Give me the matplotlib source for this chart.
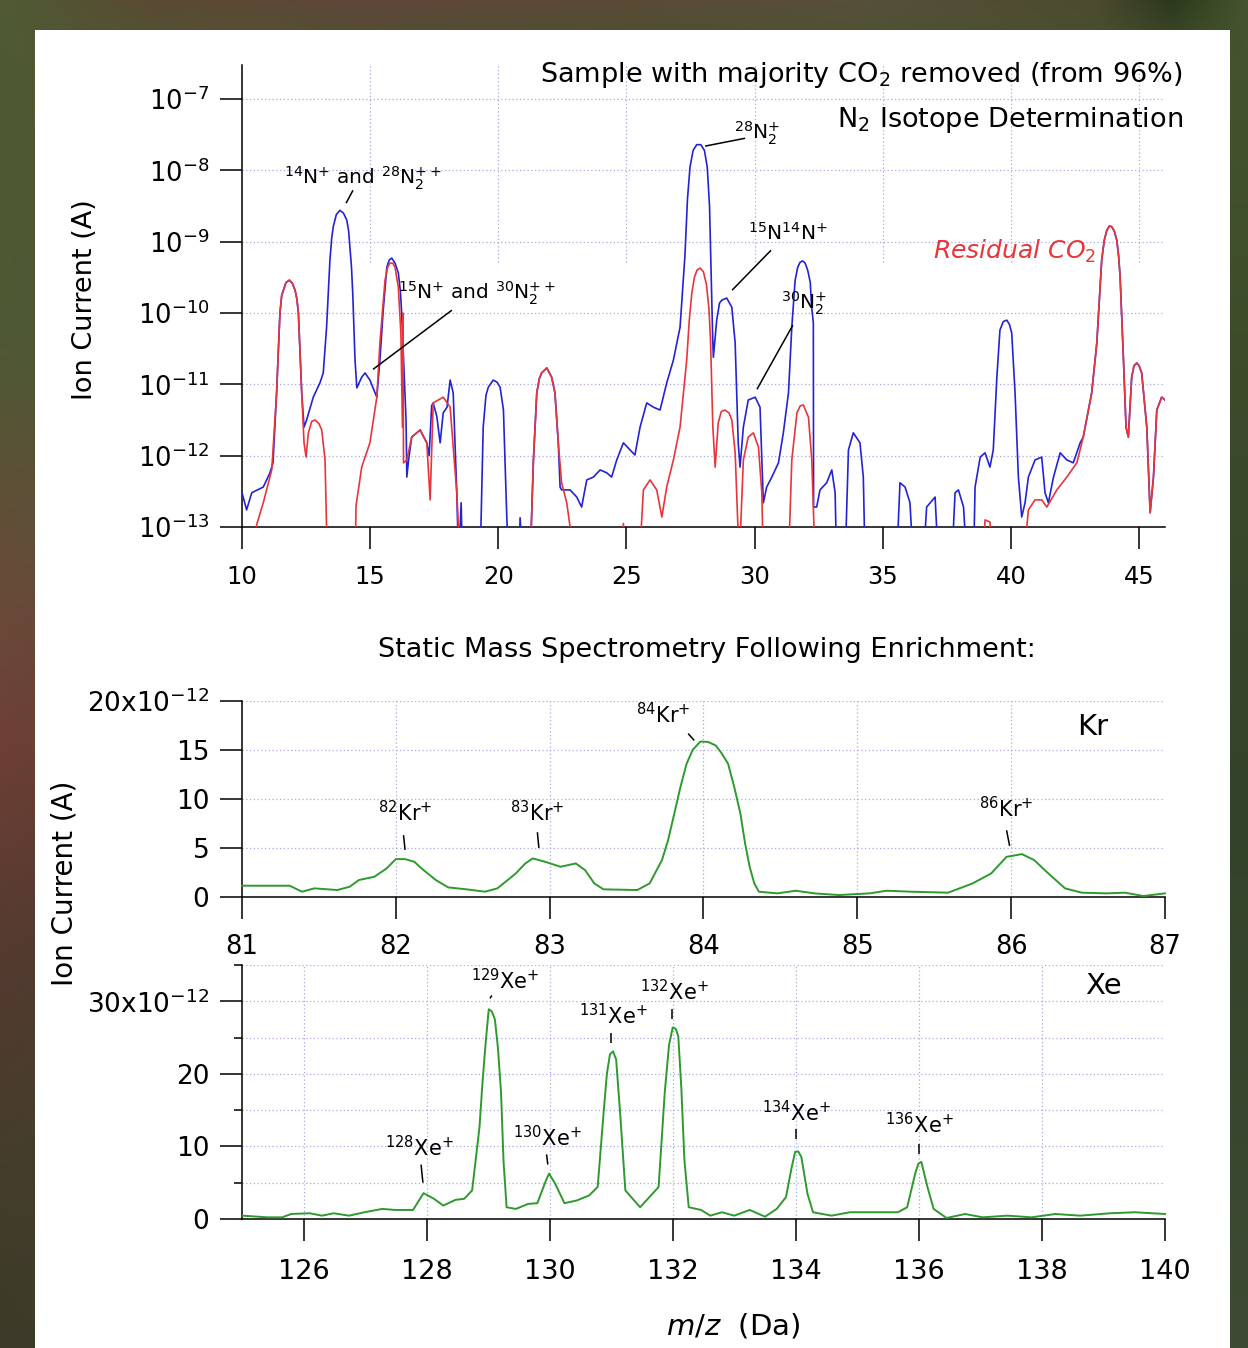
import matplotlib
matplotlib.use('Agg')
import matplotlib.pyplot as plt
import numpy as np
from matplotlib.patches import Rectangle
from matplotlib.colors import to_rgb
from matplotlib.ticker import FixedLocator, NullLocator, FixedFormatter

# ---------------- data ----------------
# Top panel: (m/z, log10 ion current [A]); -13.5 means below the axis floor
n2_sample = [(10.00,-12.52),(10.18,-12.76),(10.38,-12.52),(10.83,-12.44),(11.09,-12.24),(11.21,-12.10),
    (11.35,-11.12),(11.48,-10.00),(11.55,-9.75),(11.72,-9.57),(11.85,-9.54),(11.96,-9.58),(12.07,-9.68),
    (12.14,-9.80),(12.20,-10.00),(12.33,-11.12),
    (12.42,-11.60),(12.52,-11.50),(12.78,-11.18),(13.04,-10.98),(13.17,-10.84),(13.30,-10.20),(13.43,-9.26),
    (13.50,-8.95),(13.56,-8.79),(13.68,-8.62),(13.82,-8.56),(13.96,-8.60),(14.09,-8.70),(14.16,-8.85),
    (14.21,-9.08),(14.27,-9.35),(14.32,-9.72),(14.41,-10.66),(14.48,-11.05),
    (14.67,-10.90),(14.80,-10.84),(14.99,-10.94),(15.26,-11.18),(15.38,-10.66),(15.51,-9.96),(15.65,-9.36),
    (15.74,-9.26),(15.84,-9.23),(15.97,-9.30),(16.10,-9.44),(16.18,-9.70),(16.23,-10.00),(16.40,-11.50),
    (16.43,-12.30),(16.50,-12.06),
    (16.62,-11.74),(16.95,-11.64),(17.21,-11.82),(17.30,-12.00),(17.40,-11.30),(17.46,-11.26),(17.60,-11.45),
    (17.73,-11.82),(17.85,-11.40),(18.00,-11.32),(18.12,-10.94),(18.24,-11.12),(18.38,-12.52),(18.45,-13.50),
    (18.55,-12.66),(18.60,-13.50),(19.29,-13.50),(19.41,-11.60),(19.52,-11.15),(19.61,-11.04),(19.80,-10.94),
    (19.95,-10.97),(20.07,-11.04),(20.20,-11.36),(20.30,-12.52),(20.39,-13.50),(20.80,-13.50),(20.85,-12.87),
    (20.95,-13.50),(21.24,-13.50),
    (21.37,-12.06),(21.50,-11.12),(21.60,-10.92),(21.69,-10.84),(21.89,-10.77),(22.08,-10.90),(22.21,-11.12),
    (22.34,-11.82),(22.41,-12.44),(22.47,-12.48),(22.80,-12.48),(23.06,-12.58),(23.25,-12.72),(23.45,-12.34),
    (23.71,-12.30),(23.97,-12.20),(24.23,-12.24),(24.42,-12.30),(24.62,-12.06),(24.88,-11.82),(25.14,-11.92),
    (25.33,-11.99),(25.53,-11.60),(25.79,-11.26),(26.05,-11.32),(26.31,-11.36),(26.57,-10.98),(26.83,-10.66),
    (27.09,-10.20),(27.28,-9.20),(27.38,-8.40),(27.48,-7.95),(27.60,-7.72),(27.74,-7.64),(27.90,-7.64),
    (28.04,-7.72),(28.15,-7.95),(28.24,-8.50),(28.30,-9.40),(28.36,-10.30),
    (28.39,-10.62),(28.52,-10.10),(28.63,-9.86),(28.72,-9.82),(28.91,-9.79),(29.11,-9.92),(29.24,-10.42),
    (29.36,-11.82),(29.43,-12.16),(29.56,-11.60),(29.75,-11.22),(30.02,-11.18),(30.21,-11.32),(30.34,-12.66),
    (30.47,-12.44),(30.67,-12.30),(30.93,-12.10),(31.12,-11.68),(31.32,-11.12),(31.45,-10.20),(31.58,-9.54),
    (31.68,-9.36),(31.77,-9.29),(31.87,-9.27),(31.97,-9.30),(32.07,-9.40),(32.17,-9.57),(32.22,-9.90),
    (32.29,-10.14),(32.30,-12.72),(32.42,-12.72),
    (32.55,-12.48),(32.81,-12.38),(33.01,-12.20),(33.14,-12.52),(33.20,-13.50),(33.53,-13.50),(33.66,-11.92),
    (33.85,-11.68),(34.11,-11.82),(34.24,-12.30),(34.31,-13.50),(35.54,-13.50),(35.67,-12.38),(35.87,-12.44),
    (36.06,-12.66),(36.19,-13.50),(36.58,-13.50),(36.71,-12.72),(37.04,-12.58),(37.17,-13.50),(37.69,-13.50),
    (37.82,-12.52),(37.95,-12.48),(38.15,-12.72),(38.28,-13.50),(38.54,-13.50),(38.60,-12.44),(38.80,-12.02),
    (38.99,-11.96),(39.18,-12.16),(39.31,-11.92),(39.45,-10.90),(39.57,-10.24),(39.70,-10.12),(39.84,-10.10),
    (39.94,-10.16),(40.03,-10.28),(40.16,-11.12),(40.29,-12.30),(40.42,-12.86),(40.55,-12.66),(40.68,-12.30),
    (40.94,-12.06),(41.20,-12.02),
    (41.33,-12.52),(41.46,-12.66),(41.66,-12.30),(41.92,-11.96),(42.18,-12.06),(42.43,-12.10),(42.70,-11.82),
    (42.82,-11.74),(43.15,-11.12),(43.35,-10.42),(43.54,-9.26),(43.64,-8.98),(43.74,-8.84),(43.84,-8.78),
    (43.93,-8.79),(44.03,-8.85),(44.13,-8.98),(44.20,-9.20),
    (44.26,-9.50),(44.39,-10.66),(44.49,-11.60),(44.58,-11.74),(44.71,-10.90),(44.80,-10.74),(44.91,-10.70),
    (45.00,-10.74),(45.10,-10.84),
    (45.30,-11.60),(45.43,-12.80),(45.56,-12.30),(45.69,-11.36),(45.88,-11.18),(46.01,-11.22)]

n2_residual_co2 = [(10.40,-13.5),(10.57,-12.97),(10.83,-12.66),(11.16,-12.20),(11.35,-11.12),(11.48,-10.00),
    (11.55,-9.75),(11.72,-9.57),(11.85,-9.54),(11.96,-9.58),(12.07,-9.68),(12.14,-9.80),(12.20,-10.00),
    (12.33,-11.12),(12.42,-11.82),(12.50,-12.02),
    (12.59,-11.68),(12.72,-11.52),(12.85,-11.50),(13.00,-11.55),(13.11,-11.64),(13.24,-12.06),(13.33,-13.5),
    (14.41,-13.5),(14.45,-12.70),
    (14.67,-12.16),(14.99,-11.82),(15.26,-11.18),(15.38,-10.42),(15.58,-9.54),(15.68,-9.36),(15.77,-9.30),
    (15.88,-9.30),(15.97,-9.36),(16.10,-9.64),(16.20,-10.3),(16.26,-11.6),(16.28,-10.0),(16.30,-12.1),
    (16.43,-12.06),(16.62,-11.74),
    (16.95,-11.64),(17.21,-11.82),(17.34,-12.62),(17.46,-11.26),(17.85,-11.18),(18.12,-11.32),(18.38,-12.52),
    (18.51,-13.5),(21.24,-13.5),(21.37,-12.06),(21.50,-11.12),(21.60,-10.92),(21.69,-10.84),(21.89,-10.77),
    (22.08,-10.90),
    (22.21,-11.12),(22.34,-11.82),(22.47,-12.38),(22.67,-12.66),(22.80,-13.0),(22.90,-13.5),(24.80,-13.5),
    (24.88,-12.95),(24.96,-13.5),(25.50,-13.5),(25.66,-12.48),(25.92,-12.34),(26.18,-12.48),(26.38,-12.86),
    (26.57,-12.44),(26.83,-12.06),(27.09,-11.60),(27.35,-10.66),(27.45,-10.10),(27.55,-9.72),(27.65,-9.50),
    (27.75,-9.40),(27.87,-9.37),(28.00,-9.42),(28.12,-9.60),(28.22,-9.95),(28.28,-10.40),
    (28.37,-11.60),(28.46,-12.16),(28.58,-11.54),(28.70,-11.38),(28.84,-11.36),(29.00,-11.40),(29.11,-11.50),
    (29.24,-11.96),(29.40,-13.5),(29.56,-12.06),(29.75,-11.74),(29.95,-11.68),(30.15,-11.88),(30.28,-12.52),
    (30.34,-13.5),(31.32,-13.5),(31.45,-12.06),(31.65,-11.40),(31.78,-11.30),(31.90,-11.29),(32.10,-11.46),
    (32.23,-12.06),(32.36,-13.5),
    (38.90,-13.5),(38.99,-12.90),(39.18,-12.93),(39.30,-13.5),(40.49,-13.5),(40.68,-12.76),(40.94,-12.62),
    (41.20,-12.62),(41.40,-12.72),(41.79,-12.48),(42.18,-12.30),(42.57,-12.10),(42.82,-11.74),(43.15,-11.12),
    (43.35,-10.42),(43.54,-9.26),(43.64,-8.98),(43.74,-8.84),(43.84,-8.78),(43.93,-8.79),(44.03,-8.85),
    (44.13,-8.98),(44.20,-9.20),(44.26,-9.50),(44.39,-10.66),
    (44.49,-11.60),(44.58,-11.74),(44.71,-10.90),(44.80,-10.74),(44.91,-10.70),(45.00,-10.74),(45.10,-10.84),
    (45.30,-11.60),(45.43,-12.80),(45.56,-12.30),(45.69,-11.36),(45.88,-11.18),(46.01,-11.22)]

# Kr panel: (m/z, ion current in 1e-12 A)
kr_trace = [(81.00,1.15),(81.31,1.15),(81.39,0.54),(81.47,0.88),(81.62,0.71),(81.70,1.05),(81.76,1.73),
    (81.86,2.06),(81.94,2.91),(82.00,3.86),(82.06,3.86),(82.12,3.59),(82.18,2.74),(82.26,1.73),(82.34,0.98),
    (82.46,0.78),(82.58,0.54),(82.66,0.88),(82.78,2.40),(82.84,3.40),(82.89,3.93),(82.97,3.59),(83.07,3.08),
    (83.17,3.42),(83.23,2.74),(83.29,1.39),(83.35,0.78),(83.57,0.71),(83.65,1.39),(83.73,3.76),(83.77,5.80),
    (83.81,8.49),(83.85,11.2),(83.89,13.57),(83.93,15.0),(83.98,15.84),(84.03,15.80),(84.08,15.43),
    (84.12,14.6),(84.16,13.57),(84.20,11.2),(84.24,8.49),(84.27,5.50),(84.30,3.08),(84.33,1.40),
    (84.36,0.54),(84.48,0.37),(84.60,0.64),
    (84.72,0.37),(84.88,0.20),(85.08,0.37),(85.19,0.64),(85.35,0.54),(85.59,0.44),(85.75,1.39),(85.87,2.40),
    (85.97,4.09),(86.07,4.37),(86.15,3.76),(86.23,2.57),(86.35,0.88),(86.46,0.44),(86.62,0.37),(86.74,0.44),
    (86.86,0.10),(87.00,0.37)]

# Xe panel: (m/z, ion current in 1e-12 A)
xe_trace = [(125.01,0.46),(125.41,0.23),(125.65,0.23),(125.80,0.69),(126.10,0.79),(126.30,0.46),(126.49,0.79),
    (126.74,0.46),(126.99,0.93),(127.28,1.39),(127.48,1.25),(127.78,1.25),(127.95,3.56),(128.12,2.78),
    (128.27,1.85),(128.47,2.64),(128.61,2.78),(128.74,3.94),(128.86,12.7),(128.91,19.0),(128.96,24.3),
    (129.01,28.9),(129.06,28.6),(129.11,27.5),(129.16,23.5),(129.21,17.4),(129.25,8.0),(129.30,1.62),
    (129.45,1.39),(129.65,2.08),(129.80,2.18),(129.94,5.32),
    (129.99,6.25),(130.09,4.86),(130.24,2.18),(130.44,2.55),(130.64,3.24),(130.78,4.40),(130.88,15.0),
    (130.93,20.0),(130.98,22.7),(131.03,23.1),(131.08,22.0),(131.15,14.0),(131.23,3.94),(131.47,1.62),
    (131.62,3.01),(131.77,4.40),(131.87,17.4),(131.94,24.0),
    (132.00,26.4),(132.05,26.2),(132.09,25.2),(132.14,18.0),(132.19,8.1),(132.26,1.62),(132.46,1.25),
    (132.61,0.46),(132.80,0.93),
    (133.00,0.46),(133.25,1.25),(133.50,0.32),(133.69,1.39),(133.84,3.01),(133.93,7.0),(133.99,9.26),
    (134.04,9.30),(134.09,8.56),
    (134.19,3.47),(134.28,0.93),(134.58,0.46),(134.88,0.93),(135.27,0.93),(135.66,0.93),(135.81,1.62),
    (135.94,6.25),(135.99,7.60),(136.04,7.87),(136.14,4.40),(136.24,1.39),(136.45,0.14),(136.75,0.69),
    (137.04,0.23),
    (137.44,0.46),(137.83,0.23),(138.22,0.69),(138.62,0.46),(139.11,0.79),(139.51,0.93),(140.00,0.69)]

n2_xticks = [10, 15, 20, 25, 30, 35, 40, 45]
n2_yticks_exp = [-13, -12, -11, -10, -9, -8, -7]
kr_xticks = [81, 82, 83, 84, 85, 86, 87]
kr_yticks = [0, 5, 10, 15, 20]
kr_yticklabels = ['0', '5', '10', '15', r'20x10$^{\mathregular{-12}}$']
xe_xticks = [126, 128, 130, 132, 134, 136, 138, 140]
xe_yticks = [0, 10, 20, 30]
xe_yticklabels = ['0', '10', '20', r'30x10$^{\mathregular{-12}}$']

# ---------------- figure ----------------
W, H = 1248, 1348
fig = plt.figure(figsize=(W/100, H/100), dpi=100)
fig.patch.set_facecolor('#4b4331')

# decorative photographic-looking backdrop (colour gradient only)
bg = fig.add_axes([0, 0, 1, 1], zorder=-20)
bg.axis('off')
gx = np.linspace(0, 1, 312)
gy = np.linspace(0, 1, 337)
top_stops = [(0.0, '#4f5a33'), (0.12, '#5a4a34'), (0.3, '#5e4638'), (0.5, '#5a4a36'),
             (0.7, '#56503a'), (0.88, '#4c4a30'), (0.94, '#2c381d'), (1.0, '#46552e')]
left_stops = [(0.0, '#4f5a33'), (0.25, '#4e5834'), (0.45, '#6a4a3a'), (0.55, '#6e3f35'),
              (0.7, '#553a30'), (0.85, '#463d2c'), (1.0, '#3c3a28')]
right_stops = [(0.0, '#46552e'), (0.3, '#3c4a2a'), (0.6, '#33422a'), (1.0, '#3e4a33')]
def ramp(stops, t):
    xs = [s[0] for s in stops]
    cs = np.array([to_rgb(s[1]) for s in stops])
    return np.stack([np.interp(t, xs, cs[:, k]) for k in range(3)], axis=-1)
topc = ramp(top_stops, gx)
leftc = ramp(left_stops, gy)
rightc = ramp(right_stops, gy)
wx = np.clip(gx / 0.5, 0, 1)[None, :, None]
side = leftc[:, None, :] * (1 - wx) + rightc[:, None, :] * wx
wy = np.clip(gy / 0.05, 0, 1)[:, None, None]
img = topc[None, :, :] * (1 - wy) + side * wy
bg.imshow(img, extent=[0, 1, 1, 0], aspect='auto', interpolation='bilinear')
bg.set_xlim(0, 1); bg.set_ylim(1, 0)

fig.add_artist(Rectangle((35/W, 0), (1230-35)/W, (H-30)/H, transform=fig.transFigure,
                         facecolor='white', edgecolor='none', zorder=-10))

def fx(px): return px / W
def fy(py): return 1 - py / H

GRID = dict(color='#a9a9e8', linestyle=(0, (1, 2)), linewidth=0.9)
BLUE, RED, GREEN = '#2323d6', '#e8353b', '#2e9a2e'

def style(ax):
    for s in ('top', 'right'):
        ax.spines[s].set_visible(False)
    for s in ('left', 'bottom'):
        ax.spines[s].set_linewidth(1.1)
    ax.set_facecolor('none')
    ax.tick_params(which='major', direction='out', length=15.5, width=1.1, color='black')
    ax.tick_params(which='minor', direction='out', length=6, width=1.1, color='black')

# ---- top: N2 isotopes (log) ----
ax1 = fig.add_axes([fx(242), fy(527), fx(1165)-fx(242), fy(65)-fy(527)])
style(ax1)
ax1.set_yscale('log')
ax1.set_xlim(10, 46.01)
ax1.set_ylim(1e-13, 10**-6.523)
ax1.yaxis.set_major_locator(FixedLocator([10.0**e for e in n2_yticks_exp]))
ax1.yaxis.set_minor_locator(NullLocator())
ax1.set_xticks(n2_xticks)
ax1.tick_params(axis='x', labelsize=17.5, pad=12)
ax1.tick_params(axis='y', labelsize=18.5, pad=8)
for e in n2_yticks_exp[1:]:
    ax1.axhline(10.0**e, zorder=0, **GRID)
ax1.vlines(n2_xticks[1:], 10**-9.29, 10**-6.523, zorder=0, **GRID)

sx, sy = zip(*n2_sample)
cx, cy = zip(*n2_residual_co2)
ax1.plot(sx, 10.0**np.array(sy), color=BLUE, lw=1.2, zorder=3)
ax1.plot(cx, 10.0**np.array(cy), color=RED, lw=1.2, zorder=4)

def lin(ax, x0, y0, x1, y1, log=False):
    if log:
        y0, y1 = 10**y0, 10**y1
    ax.plot([x0, x1], [y0, y1], color='black', lw=1.1, zorder=5, solid_capstyle='butt')

ann = 14.5
ax1.text(14.70, 10**-8.11, r'$^{14}\mathrm{N}^{+}$ and $^{28}\mathrm{N}_{2}^{++}$', fontsize=ann, ha='center', va='center')
lin(ax1, 14.06, -8.46, 14.33, -8.28, log=True)
ax1.text(30.09, 10**-7.48, r'$^{28}\mathrm{N}_{2}^{+}$', fontsize=ann, ha='center', va='center')
lin(ax1, 28.07, -7.66, 29.63, -7.55, log=True)
ax1.text(19.17, 10**-9.72, r'$^{15}\mathrm{N}^{+}$ and $^{30}\mathrm{N}_{2}^{++}$', fontsize=ann, ha='center', va='center')
lin(ax1, 15.11, -10.79, 18.19, -9.96, log=True)
ax1.text(31.30, 10**-8.88, r'$^{15}\mathrm{N}^{14}\mathrm{N}^{+}$', fontsize=ann, ha='center', va='center')
lin(ax1, 29.12, -9.68, 30.64, -9.12, log=True)
ax1.text(31.93, 10**-9.86, r'$^{30}\mathrm{N}_{2}^{+}$', fontsize=ann, ha='center', va='center')
lin(ax1, 30.09, -11.07, 31.49, -10.17, log=True)
ax1.text(40.16, 10**-9.14, r'$\mathit{Residual\ CO_2}$', fontsize=18, color=RED, ha='center', va='center')

fig.text(fx(1183), fy(75), r'Sample with majority CO$_2$ removed (from 96%)', fontsize=19.5, ha='right', va='center')
fig.text(fx(1183), fy(120), r'N$_2$ Isotope Determination', fontsize=19.5, ha='right', va='center')
fig.text(fx(85), fy(300), 'Ion Current (A)', fontsize=19.5, rotation=90, ha='center', va='center')

# ---- middle: Kr ----
ax2 = fig.add_axes([fx(242), fy(897), fx(1165)-fx(242), fy(700.7)-fy(897)])
style(ax2)
ax2.set_xlim(81, 87)
ax2.set_ylim(0, 20)
ax2.set_xticks(kr_xticks)
ax2.set_yticks(kr_yticks)
ax2.yaxis.set_major_formatter(FixedFormatter(kr_yticklabels))
ax2.tick_params(axis='y', labelsize=19, pad=8)
ax2.tick_params(axis='x', labelsize=18.5, pad=11)
for v in kr_yticks[1:]:
    ax2.axhline(v, zorder=0, **GRID)
for v in kr_xticks[1:-1]:
    ax2.axvline(v, zorder=0, **GRID)
kx, ky = zip(*kr_trace)
ax2.plot(kx, ky, color=GREEN, lw=1.4, zorder=3, clip_on=False)

lab_fs = 15
def iso(ax, x, y, mass, sym, x0, y0, x1, y1):
    ax.text(x, y, r'$^{\mathregular{%s}}\mathregular{%s}^{+}$' % (mass, sym), fontsize=lab_fs,
            ha='center', va='center')
    lin(ax, x0, y0, x1, y1)

iso(ax2, 82.06, 8.63, '82', 'Kr', 82.05, 6.3, 82.06, 4.8)
iso(ax2, 82.92, 8.63, '83', 'Kr', 82.92, 6.6, 82.93, 5.0)
iso(ax2, 83.74, 18.6, '84', 'Kr', 83.90, 16.65, 83.94, 15.95)
iso(ax2, 85.97, 9.04, '86', 'Kr', 85.97, 6.8, 85.99, 5.2)
ax2.text(86.53, 17.36, 'Kr', fontsize=21, ha='center', va='center')

# ---- bottom: Xe ----
ax3 = fig.add_axes([fx(242), fy(1219), fx(1165)-fx(242), fy(965)-fy(1219)])
style(ax3)
ax3.set_xlim(125, 140)
ax3.set_ylim(0, 35)
ax3.set_xticks(xe_xticks)
ax3.set_yticks(xe_yticks)
ax3.yaxis.set_major_formatter(FixedFormatter(xe_yticklabels))
ax3.yaxis.set_minor_locator(FixedLocator([5, 15, 25, 35]))
ax3.tick_params(axis='y', labelsize=19, pad=8)
ax3.tick_params(axis='x', labelsize=19.5, pad=13)
for v in [5, 10, 15, 20, 25, 30, 35]:
    ax3.axhline(v, zorder=0, **GRID)
for v in xe_xticks[:-1]:
    ax3.axvline(v, zorder=0, **GRID)
xx, xy = zip(*xe_trace)
ax3.plot(xx, xy, color=GREEN, lw=1.4, zorder=3, clip_on=False)

iso(ax3, 127.89, 9.86, '128', 'Xe', 127.91, 7.5, 127.94, 5.0)
iso(ax3, 129.27, 32.8, '129', 'Xe', 129.03, 30.4, 129.06, 30.8)
iso(ax3, 129.97, 11.25, '130', 'Xe', 129.95, 8.9, 129.97, 7.5)
iso(ax3, 131.03, 28.06, '131', 'Xe', 130.99, 25.6, 130.99, 24.2)
iso(ax3, 132.03, 31.4, '132', 'Xe', 131.98, 29.0, 131.98, 27.6)
iso(ax3, 134.01, 14.7, '134', 'Xe', 134.00, 12.4, 134.00, 11.0)
iso(ax3, 136.01, 13.05, '136', 'Xe', 136.00, 10.3, 136.00, 8.9)
ax3.text(139.0, 32.08, 'Xe', fontsize=21, ha='center', va='center')

fig.text(fx(707), fy(650), 'Static Mass Spectrometry Following Enrichment:', fontsize=19.5, ha='center', va='center')
fig.text(fx(65), fy(883), 'Ion Current (A)', fontsize=20, rotation=90, ha='center', va='center')
fig.text(fx(733), fy(1326), r'$\mathit{m/z}$  (Da)', fontsize=21, ha='center', va='center')

fig.savefig('out.png', dpi=100, facecolor=fig.get_facecolor())
